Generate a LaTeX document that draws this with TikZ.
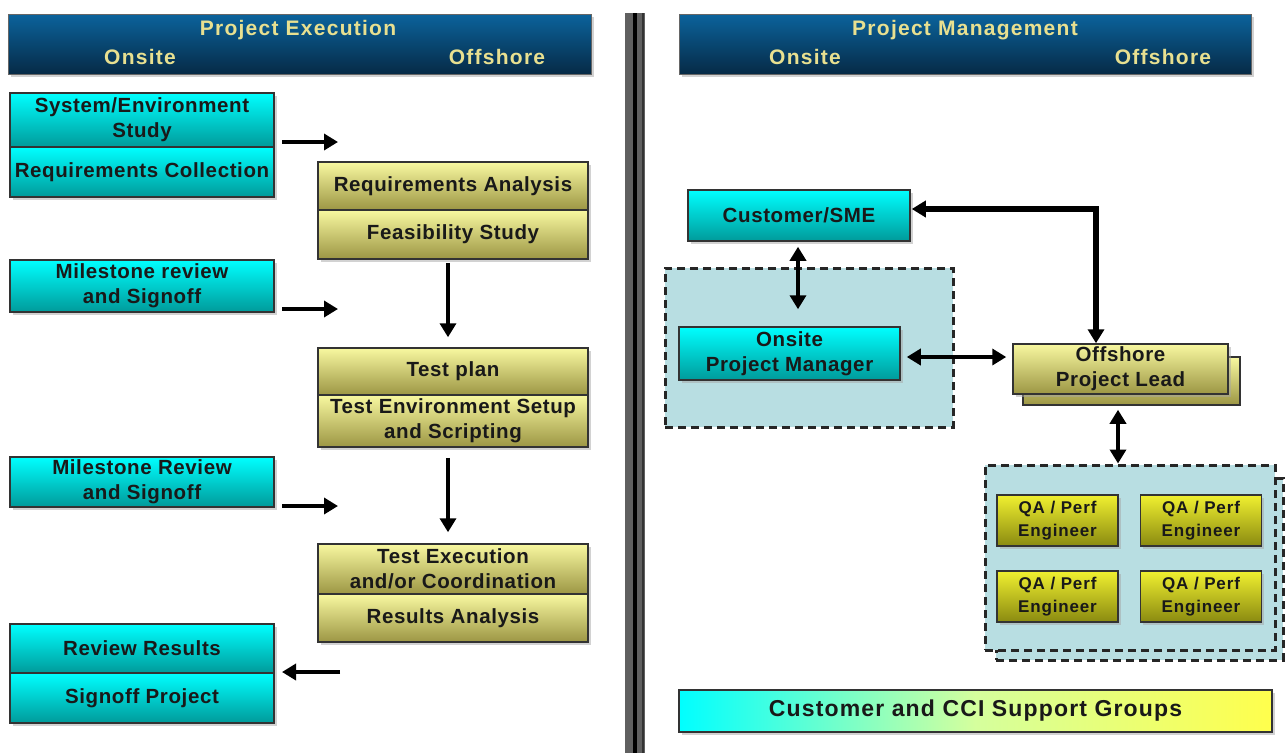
\documentclass[tikz,border=0pt]{standalone}
\usepackage{fontspec}
\setmainfont{Liberation Sans}
\newfontfamily\bodyfont[LetterSpace=3]{Liberation Sans}
\newfontfamily\hdrfont[LetterSpace=6]{Liberation Sans}
\newfontfamily\qafont[LetterSpace=5]{Liberation Sans}
\usetikzlibrary{arrows.meta,shadows,calc}
\definecolor{cyanT}{HTML}{00FFFF}
\definecolor{cyanB}{HTML}{009A9A}
\definecolor{yelT}{HTML}{F8F8A0}
\definecolor{yelB}{HTML}{9C9644}
\definecolor{qaT}{HTML}{F0F030}
\definecolor{qaB}{HTML}{8A8A10}
\definecolor{hdrT}{HTML}{0B639C}
\definecolor{hdrB}{HTML}{062A46}
\definecolor{hdrtxt}{HTML}{E8E090}
\definecolor{grp}{HTML}{B8DEE2}
\definecolor{edge}{HTML}{333333}
\tikzset{
  basebox/.style={draw=edge, line width=1.5pt, align=center, inner sep=0pt,
    font=\bodyfont\bfseries\fontsize{20.5}{25}\selectfont, text=black!90},
  cbox/.style={basebox, top color=cyanT, bottom color=cyanB},
  ybox/.style={basebox, top color=yelT, bottom color=yelB},
  qabox/.style={basebox, top color=qaT, bottom color=qaB,
    minimum width=121pt, minimum height=51pt, font=\qafont\bfseries\fontsize{17}{23}\selectfont},
  hdr/.style={draw=black!60, line width=1pt, top color=hdrT, bottom color=hdrB,
    minimum height=60pt, inner sep=0pt},
  hdrtext/.style={text=hdrtxt, font=\hdrfont\bfseries\fontsize{21}{24}\selectfont, inner sep=0pt},
  grpbox/.style={draw=black!85, fill=grp, line width=3pt, dash pattern=on 8pt off 5pt, inner sep=0pt},
  arr/.style={line width=4.5pt, -{Triangle[length=14pt,width=16pt]}},
  darr/.style={line width=4.5pt, {Triangle[length=14pt,width=16pt]}-{Triangle[length=14pt,width=16pt]}},
  shd/.style={drop shadow={shadow xshift=2.5pt, shadow yshift=-2.5pt, fill=black!35, opacity=.5}}
}
\begin{document}
\begin{tikzpicture}[x=1pt,y=-1pt]
\useasboundingbox (0,0) rectangle (1285,753);
\fill[white] (0,0) rectangle (1285,753);

% divider
\fill[gray!75!black] (625,13) rectangle (645,753);
\draw[black, line width=4pt] (635,13) -- (635,753);
\draw[black!80, line width=2pt] (643,13) -- (643,753);

% headers
\node[hdr, shd, minimum width=583pt] (hdrL) at (299.5,44) {};
\node[hdrtext] (titL) at (298,30) {Project Execution};
\node[hdrtext] (onL) at (140,57) {Onsite};
\node[hdrtext] (offL) at (497,57) {Offshore};
\node[hdr, shd, minimum width=572pt] (hdrR) at (965,44) {};
\node[hdrtext] (titR) at (965,30) {Project Management};
\node[hdrtext] (onR) at (805,57) {Onsite};
\node[hdrtext] (offR) at (1163,57) {Offshore};

% left cyan boxes
\node[cbox, shd, minimum width=264pt, minimum height=54pt] (sys) at (142,120) {System/Environment\\Study};
\node[cbox, shd, minimum width=264pt, minimum height=50pt] (reqc) at (142,172) {Requirements Collection};
\node[cbox, shd, minimum width=264pt, minimum height=52pt] (ms1) at (142,286) {Milestone review\\and Signoff};
\node[cbox, shd, minimum width=264pt, minimum height=50pt] (ms2) at (142,482) {Milestone Review\\and Signoff};
\node[cbox, shd, minimum width=264pt, minimum height=49pt] (rr) at (142,648.5) {Review Results};
\node[cbox, shd, minimum width=264pt, minimum height=50pt] (sp) at (142,698) {Signoff Project};

% yellow boxes
\node[ybox, shd, minimum width=270pt, minimum height=48pt] (ra) at (453,186) {Requirements Analysis};
\node[ybox, shd, minimum width=270pt, minimum height=49pt] (fs) at (453,234.5) {Feasibility Study};
\node[ybox, shd, minimum width=270pt, minimum height=47pt] (tp) at (453,371.5) {Test plan};
\node[ybox, shd, minimum width=270pt, minimum height=52pt] (tes) at (453,421) {Test Environment Setup\\and Scripting};
\node[ybox, shd, minimum width=270pt, minimum height=50pt] (te) at (453,569) {Test Execution\\and/or Coordination};
\node[ybox, shd, minimum width=270pt, minimum height=48pt] (res) at (453,618) {Results Analysis};

% left arrows
\coordinate (a1s) at (282,142); \coordinate (a1e) at (338,142);
\coordinate (a2s) at (282,309); \coordinate (a2e) at (338,309);
\coordinate (a3s) at (282,506); \coordinate (a3e) at (338,506);
\coordinate (a4s) at (340,672); \coordinate (a4e) at (282,672);
\draw[arr] (a1s) -- (a1e);
\draw[arr] (a2s) -- (a2e);
\draw[arr] (a3s) -- (a3e);
\draw[arr] (a4s) -- (a4e);
\draw[arr, shorten <=3pt, shorten >=10pt] ([xshift=-5pt]fs.south) -- ([xshift=-5pt]tp.north);
\draw[arr, shorten <=10pt, shorten >=11pt] ([xshift=-5pt]tes.south) -- ([xshift=-5pt]te.north);

% right side
\node[grpbox, minimum width=288pt, minimum height=159pt] (grp1) at (809,347.5) {};
\node[cbox, shd, minimum width=222pt, minimum height=51pt] (cust) at (799,215.5) {Customer/SME};
\node[cbox, shd, minimum width=221pt, minimum height=53pt] (opm) at (789.5,353.5) {Onsite\\Project Manager};
\node[ybox, minimum width=217pt, minimum height=48pt] (oplsh) at (1131.5,381) {};
\node[ybox, shd, minimum width=215pt, minimum height=50pt] (opl) at (1120.5,369) {Offshore\\Project Lead};

\node[grpbox, minimum width=287pt, minimum height=182pt] (grp2sh) at (1139.5,569) {};
\node[grpbox, minimum width=290pt, minimum height=185pt] (grp2) at (1130,557.5) {};
\node[qabox, shd] (qa1) at (1057.5,520.5) {QA / Perf\\Engineer};
\node[qabox, shd] (qa2) at (1201,520.5) {QA / Perf\\Engineer};
\node[qabox, shd] (qa3) at (1057.5,596.5) {QA / Perf\\Engineer};
\node[qabox, shd] (qa4) at (1201,596.5) {QA / Perf\\Engineer};

\draw[darr, line width=5.5pt, shorten <=1pt] ([yshift=6.5pt]cust.east) -| ([xshift=-24.5pt]opl.north);
\draw[darr, shorten <=5pt, shorten >=17pt] ([xshift=-1pt]cust.south) -- ([xshift=-1pt]cust.south |- opm.north);
\draw[darr, shorten <=6pt, shorten >=6pt] ([yshift=-3.5pt]opm.east) -- ([yshift=-3.5pt]opm.east -| opl.west);
\draw[darr, shorten <=4pt, shorten >=0pt] ([xshift=-13.5pt]oplsh.south) -- ([xshift=-13.5pt]oplsh.south |- grp2.north);

\node[basebox, shd, left color=cyanT, right color=yellow!70!white, middle color=cyanT!30!yellow!55!white,
  minimum width=593pt, minimum height=42pt, font=\qafont\bfseries\fontsize{23}{26}\selectfont] (cci) at (975.5,711) {Customer and CCI Support Groups};
\end{tikzpicture}
\end{document}
